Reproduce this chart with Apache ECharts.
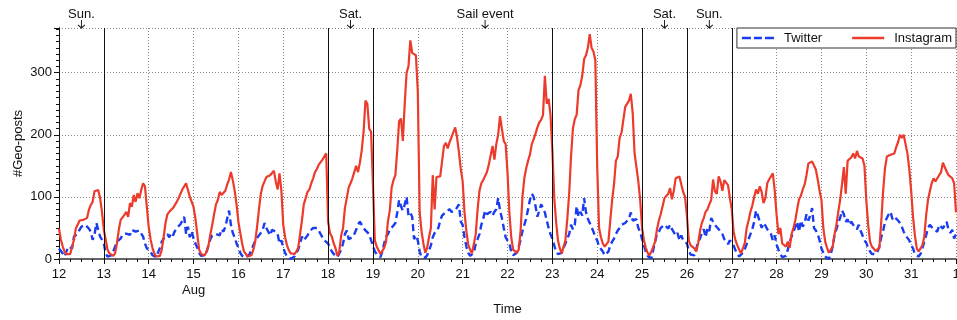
<!DOCTYPE html>
<html>
<head>
<meta charset="utf-8">
<script src="https://cdn.jsdelivr.net/npm/echarts@6/dist/echarts.min.js"></script>
<style>
html,body{margin:0;padding:0;background:#fff;}
#chart{width:957px;height:320px;}
</style>
</head>
<body>
<div id="chart"></div>
<script>
// day labels on the time axis, 12 Aug .. 1 Sep
var dayLabels = ['12','13','14','15','16','17','18','19','20','21','22','23','24','25','26','27','28','29','30','31','1'];
// days drawn with a solid line
var weekendLines = [13, 18, 19, 23, 25, 26, 27];
// notes above the plot
var noteTexts = ['Sun.', 'Sat.', 'Sail event', 'Sat.', 'Sun.'];
var noteDays = [12.5, 18.5, 21.5, 25.5, 26.5];
var yTicks = [0, 100, 200, 300];

// hourly geo-posts, one row per day
var twitter = [
  17,15,9,4,6,20,23,17,36,39,41,47,52,53,55,52,49,44,31,39,58,60,36,31,
  25,9,4,3,6,12,20,28,31,33,39,36,41,44,39,47,48,44,47,46,48,36,25,17,
  20,12,6,3,3,6,18,28,33,36,40,35,42,38,45,50,48,56,62,68,40,52,35,45,
  33,25,18,10,5,3,6,12,22,32,38,35,40,42,38,48,44,52,65,78,55,42,35,25,
  18,10,5,3,2,4,8,15,22,30,33,38,42,47,58,50,44,38,47,50,44,40,25,30,
  18,10,4,1,0,2,4,6,15,25,36,30,33,38,44,47,50,52,50,46,40,35,30,28,
  25,18,12,8,5,3,6,15,25,40,46,32,30,35,40,47,55,60,55,50,46,44,40,30,
  22,12,8,5,3,12,25,36,40,47,50,54,58,75,95,85,78,88,100,70,74,68,32,38,
  30,12,3,0,2,6,14,22,35,42,46,50,62,70,72,76,78,80,76,78,78,76,88,60,
  55,35,20,10,5,4,10,25,32,40,55,64,78,72,74,76,70,76,80,98,78,66,50,35,
  35,25,12,6,5,10,12,30,45,55,65,80,95,105,100,85,68,78,88,82,75,62,50,40,
  33,22,12,8,5,10,18,25,33,40,55,48,55,85,68,76,70,98,75,65,58,55,44,35,
  30,20,16,12,6,4,12,22,28,33,40,46,50,55,52,58,56,65,75,62,60,64,50,44,
  32,22,12,5,2,1,15,28,40,44,50,52,55,52,49,55,48,49,38,42,30,38,30,33,
  25,14,7,4,6,16,28,33,42,48,35,50,45,66,60,55,52,48,44,40,32,28,24,30,
  28,22,14,8,4,5,10,16,24,32,40,48,60,78,70,60,50,58,54,48,44,40,30,38,
  23,15,8,3,1,5,15,28,36,44,52,60,44,62,52,58,72,62,70,82,50,46,40,30,
  17,10,4,1,0,8,20,38,48,58,66,78,72,60,64,55,60,55,52,48,55,45,38,30,
  26,18,12,8,6,8,12,20,35,45,60,66,72,76,64,68,70,62,58,52,44,38,36,30,
  22,17,8,5,4,8,17,28,38,50,55,52,48,47,44,55,58,49,55,60,47,42,47,33,
  40
];
var instagram = [
  49,31,20,12,8,9,8,10,31,49,55,62,62,63,61,66,79,87,92,109,112,111,98,76,
  47,31,15,9,6,5,9,25,47,63,60,71,76,68,90,84,103,92,106,98,111,122,117,84,
  52,32,18,9,4,3,5,15,35,58,72,76,74,82,84,92,98,100,112,117,122,111,100,92,
  84,65,40,15,8,5,6,12,22,40,55,72,88,95,108,103,104,110,120,128,140,127,110,88,
  60,42,25,12,8,4,3,6,15,28,52,80,105,118,125,132,130,135,138,142,125,112,138,110,
  55,35,22,14,9,6,8,12,18,40,62,88,98,108,112,122,130,140,145,152,155,160,158,170,
  60,42,36,25,17,5,12,38,50,82,84,115,122,130,140,150,140,155,175,205,255,250,210,205,
  120,30,20,22,8,5,18,28,60,78,115,127,135,175,222,226,190,250,300,310,352,332,330,328,
  270,75,45,25,10,18,35,50,135,80,132,135,133,133,182,187,178,188,196,198,212,196,172,145,
  125,75,45,23,15,9,12,40,80,110,122,127,130,140,152,150,182,160,185,200,230,210,190,185,
  140,75,35,15,12,10,15,45,100,130,146,158,168,185,193,202,212,220,224,232,295,250,258,232,
  175,100,60,30,17,9,12,30,65,105,165,210,225,232,272,280,295,322,328,340,362,340,334,320,
  150,50,35,25,20,17,28,62,95,120,158,165,195,203,205,245,248,255,266,235,170,148,125,95,
  50,30,18,10,6,12,20,28,48,62,72,85,98,100,105,114,96,110,130,131,133,120,108,100,
  70,30,22,19,17,12,25,45,58,66,76,80,88,95,128,109,105,133,125,110,127,124,119,98,
  80,44,30,22,15,9,12,26,50,62,76,86,100,112,105,117,108,90,98,122,128,126,138,110,
  71,40,50,25,26,20,28,18,40,50,62,80,96,102,112,120,135,154,157,157,154,144,128,110,
  95,50,28,18,10,11,20,40,55,76,95,120,148,105,158,160,164,170,162,174,165,165,162,150,
  95,55,28,20,17,13,12,18,60,109,146,165,167,168,168,170,180,188,200,195,200,185,170,145,
  110,68,38,17,12,12,22,35,70,95,109,122,130,125,130,128,140,155,152,141,135,138,130,122,
  75
];

var yMax = 372;
var hourMax = (dayLabels.length - 1) * 24;
var font = 'Liberation Sans, Arial, sans-serif';
var blue = '#1a3cf0';
var red = '#ec3a2b';

function toPoints(arr){
	return arr.map(function(v, i){ return [i, v]; });
}

var myChart = echarts.init(document.getElementById('chart'));
var option = {
	animation: false,
	textStyle: { fontFamily: font },
	grid: { left: 59, right: 1, top: 28, bottom: 61, outerBoundsMode: 'none', containLabel: false },
	legend: {
		data: [
			{ name: 'Twitter', icon: 'path://M0,0h9v2.5h-9z M12,0h8v2.5h-8z M23,0h9v2.5h-9z', itemStyle: { color: blue } },
			{ name: 'Instagram', icon: 'path://M0,0h32v2.5h-32z', itemStyle: { color: red } }
		],
		right: 1,
		top: 28,
		backgroundColor: '#fff',
		borderColor: '#333',
		borderWidth: 1,
		borderRadius: 0,
		padding: [3, 4, 3, 5],
		itemWidth: 32,
		itemHeight: 2.5,
		itemGap: 30,
		textStyle: { fontSize: 13, color: '#111', padding: [0, 0, 0, 5], lineHeight: 14 }
	},
	xAxis: [
		{
			type: 'value',
			min: 0,
			max: hourMax,
			interval: 24,
			name: 'Time',
			nameLocation: 'middle',
			nameGap: 42,
			nameTextStyle: { fontSize: 13, color: '#111' },
			axisLine: { lineStyle: { color: '#111', width: 1 } },
			axisTick: { length: 5, lineStyle: { color: '#111' } },
			minorTick: { show: true, splitNumber: 4, length: 3, lineStyle: { color: '#111' } },
			axisLabel: {
				margin: 7,
				fontSize: 13,
				color: '#111',
				lineHeight: 16,
				formatter: function(v){
					var i = Math.round(v / 24);
					return i === 3 ? dayLabels[i] + '\nAug' : dayLabels[i];
				}
			},
			splitLine: { show: true, lineStyle: { color: '#888', type: [1, 2], width: 1 } }
		},
		{
			type: 'value',
			position: 'top',
			min: 0,
			max: hourMax,
			axisLine: { lineStyle: { color: '#666', width: 2 } },
			axisTick: { show: false },
			axisLabel: { show: false },
			splitLine: { show: false }
		}
	],
	yAxis: [
		{
			type: 'value',
			min: 0,
			max: yMax,
			interval: 100,
			name: '#Geo-posts',
			nameLocation: 'middle',
			nameGap: 34,
			nameMoveOverlap: false,
			nameTextStyle: { fontSize: 13, color: '#111' },
			axisLine: { show: true, lineStyle: { color: '#111', width: 1 } },
			axisTick: { length: 5, lineStyle: { color: '#111' } },
			minorTick: { show: true, splitNumber: 10, length: 3, lineStyle: { color: '#111' } },
			axisLabel: {
				fontSize: 13,
				color: '#111',
				margin: 7,
				formatter: function(v){ return yTicks.indexOf(v) >= 0 ? String(v) : ''; }
			},
			splitLine: { show: true, lineStyle: { color: '#888', type: [1, 2], width: 1 } }
		},
		{
			type: 'value',
			position: 'right',
			min: 0,
			max: yMax,
			axisLine: { show: true, lineStyle: { color: '#111', width: 1 } },
			axisTick: { show: false },
			axisLabel: { show: false },
			splitLine: { show: false }
		}
	],
	series: [
		{
			name: 'Twitter',
			type: 'line',
			symbol: 'none',
			data: toPoints(twitter),
			color: blue,
			lineStyle: { color: blue, width: 2.4, type: [7, 4] },
			markLine: {
				silent: true,
				symbol: ['none', 'none'],
				label: { show: false },
				lineStyle: { color: '#111', type: 'solid', width: 1 },
				data: weekendLines.map(function(d){ return { xAxis: (d - 12) * 24 }; })
			}
		},
		{
			name: 'Instagram',
			type: 'line',
			symbol: 'none',
			data: toPoints(instagram),
			color: red,
			lineStyle: { color: red, width: 2.2 },
			markPoint: {
				silent: true,
				symbol: 'path://M4,0 L4,10 M0.5,6 L4,10 L7.5,6',
				symbolSize: [7, 8],
				symbolOffset: [0, -4],
				itemStyle: { color: 'transparent', borderColor: '#111', borderWidth: 1 },
				label: {
					show: true,
					position: 'top',
					distance: -1,
					formatter: '{b}',
					fontSize: 13,
					color: '#111'
				},
				data: noteDays.map(function(d, i){
					return { name: noteTexts[i], coord: [(d - 12) * 24, yMax] };
				})
			}
		}
	]
};
myChart.setOption(option);
</script>
</body>
</html>
